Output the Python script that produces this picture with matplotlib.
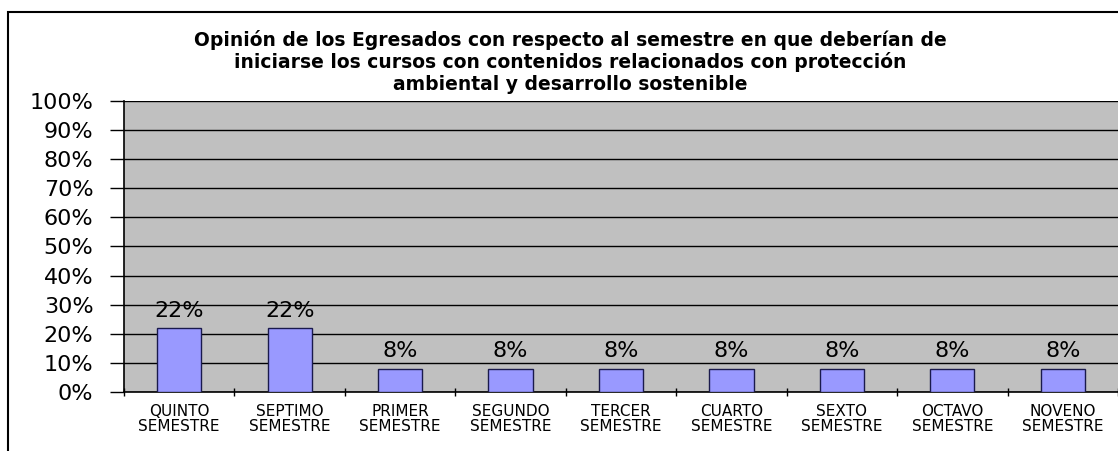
import numpy as np
import matplotlib.pyplot as plt
from matplotlib.patches import Rectangle

categorias = ['QUINTO\nSEMESTRE', 'SEPTIMO\nSEMESTRE', 'PRIMER\nSEMESTRE',
              'SEGUNDO\nSEMESTRE', 'TERCER\nSEMESTRE', 'CUARTO\nSEMESTRE',
              'SEXTO\nSEMESTRE', 'OCTAVO\nSEMESTRE', 'NOVENO\nSEMESTRE']
valores = [22, 22, 8, 8, 8, 8, 8, 8, 8]
etiquetas_y = ['0%', '10%', '20%', '30%', '40%', '50%', '60%', '70%', '80%', '90%', '100%']

titulo = ('Opinión de los Egresados con respecto al semestre en que deberían de\n'
          'iniciarse los cursos con contenidos relacionados con protección\n'
          'ambiental y desarrollo sostenible')

plt.rcParams['font.family'] = ['DejaVu Sans']

fig = plt.figure(figsize=(11.18, 4.51), dpi=100)
ax = fig.add_axes([124 / 1118, 1 - 392 / 451, 1 - 124 / 1118, (392 - 101) / 451])

# borde exterior del grafico
fig.patches.append(Rectangle((8 / 1118, -0.05), 1.2, 1 - 12 / 451 + 0.05,
                             transform=fig.transFigure, fill=False,
                             edgecolor='black', linewidth=1.5))

x = np.arange(len(valores))
ax.set_facecolor('#C0C0C0')
ax.bar(x, valores, width=0.4, color='#9999FF', edgecolor='#1a1a4d', linewidth=1, zorder=3)

for xi, v in zip(x, valores):
    ax.text(xi, v + 2.5, f'{v}%', ha='center', va='bottom', fontsize=16, zorder=4)

ax.set_xlim(-0.5, len(valores) - 0.5)
ax.set_ylim(0, 100)
ax.set_yticks(np.arange(0, 101, 10))
ax.set_yticklabels(etiquetas_y, fontsize=16)
ax.yaxis.grid(True, color='black', linewidth=1)
ax.set_axisbelow(True)

ax.set_xticks(np.arange(len(valores) + 1) - 0.5)
ax.set_xticklabels([])
ax.set_xticks(x, minor=True)
ax.set_xticklabels(categorias, minor=True, fontsize=11, linespacing=0.95)
ax.tick_params(axis='x', which='minor', length=0, pad=9)
ax.tick_params(axis='x', which='major', length=6, direction='inout', width=1)
ax.tick_params(axis='y', length=10, direction='out', width=1, pad=12)

for s in ['top', 'right']:
    ax.spines[s].set_visible(False)
ax.spines['left'].set_linewidth(1.2)
ax.spines['bottom'].set_linewidth(1.2)

fig.text(570 / 1118, 1 - 30 / 451, titulo, ha='center', va='top',
         fontsize=13.5, fontweight='bold', linespacing=1.15)

fig.savefig('out.png', dpi=100)
